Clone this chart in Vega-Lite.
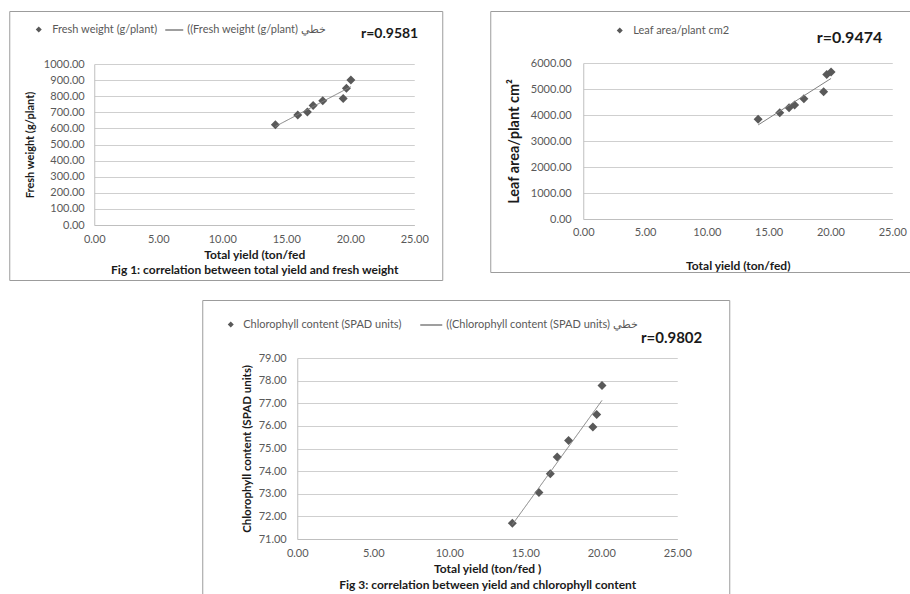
{
  "$schema": "https://vega.github.io/schema/vega-lite/v6.json",
  "background": "white",
  "padding": {"left": 8, "top": 10, "right": 0, "bottom": 0},
  "datasets": {
    "d": [
      {"yield": 14.15, "fresh": 622, "leaf": 3838, "chl": 71.7},
      {"yield": 15.9, "fresh": 683, "leaf": 4090, "chl": 73.05},
      {"yield": 16.65, "fresh": 702, "leaf": 4280, "chl": 73.88},
      {"yield": 17.1, "fresh": 743, "leaf": 4385, "chl": 74.62},
      {"yield": 17.85, "fresh": 771, "leaf": 4625, "chl": 75.35},
      {"yield": 19.45, "fresh": 785, "leaf": 4895, "chl": 75.95},
      {"yield": 19.7, "fresh": 849, "leaf": 5560, "chl": 76.5},
      {"yield": 20.05, "fresh": 900, "leaf": 5650, "chl": 77.78}
    ]
  },
  "spacing": 18,
  "center": true,
  "resolve": {"scale": {"shape": "independent", "strokeDash": "independent"}, "legend": {"shape": "independent", "strokeDash": "independent"}},
  "vconcat": [
    {
      "spacing": 46,
      "resolve": {"scale": {"shape": "independent", "strokeDash": "independent"}, "legend": {"shape": "independent", "strokeDash": "independent"}},
      "hconcat": [
        {
          "width": 433,
          "height": 269,
          "data": {"name": "d"},
          "title": {"text": "r=0.9581", "orient": "top", "anchor": "end", "frame": "group", "offset": -30, "dx": -24, "fontSize": 14},
          "layer": [
            {
              "mark": {"type": "point", "filled": true, "size": 81, "color": "#595959", "opacity": 1},
              "encoding": {
                "x": {"field": "yield", "type": "quantitative",
                  "scale": {"domain": [0, 25], "range": [85, 405], "nice": false, "zero": false},
                  "axis": {"values": [0, 5, 10, 15, 20, 25], "tickCount": 50, "format": ".2f", "offset": -55, "grid": false, "labelPadding": 8,
                    "title": ["Total yield (ton/fed", "Fig 1: correlation between total yield and fresh weight"], "titleFontSize": 12, "titlePadding": 5, "titleLineHeight": 15}},
                "y": {"field": "fresh", "type": "quantitative",
                  "scale": {"domain": [0, 1000], "range": [214, 53], "nice": false, "zero": false},
                  "axis": {"values": [0, 100, 200, 300, 400, 500, 600, 700, 800, 900, 1000], "tickCount": 50, "format": ".2f", "offset": -85, "grid": true, "labelPadding": 10,
                    "title": "Fresh weight (g/plant)", "titlePadding": 8}},
                "shape": {"datum": "Fresh weight (g/plant)", "scale": {"range": ["diamond"]},
                  "legend": {"orient": "none", "legendX": 24, "legendY": 13, "title": null, "labelOffset": 8}}
              }
            },
            {
              "transform": [{"regression": "fresh", "on": "yield"}],
              "mark": {"type": "line", "color": "#808080", "strokeWidth": 1},
              "encoding": {
                "x": {"field": "yield", "type": "quantitative"},
                "y": {"field": "fresh", "type": "quantitative"},
                "strokeDash": {"datum": "((Fresh weight (g/plant) خطي", "scale": {"range": [[1, 0]]},
                  "legend": {"orient": "none", "legendX": 155, "legendY": 9, "title": null, "symbolSize": 324, "labelOffset": 3}}
              }
            }
          ]
        },
        {
          "width": 432,
          "height": 261,
          "data": {"name": "d"},
          "title": {"text": "r=0.9474", "orient": "top", "anchor": "end", "frame": "group", "offset": -35, "dx": -40, "fontSize": 16},
          "layer": [
            {
              "mark": {"type": "point", "filled": true, "size": 81, "color": "#595959", "opacity": 1},
              "encoding": {
                "x": {"field": "yield", "type": "quantitative",
                  "scale": {"domain": [0, 25], "range": [93, 402], "nice": false, "zero": false},
                  "axis": {"values": [0, 5, 10, 15, 20, 25], "tickCount": 50, "format": ".2f", "offset": -53, "grid": false, "labelPadding": 7,
                    "title": "Total yield (ton/fed)", "titleFontSize": 12, "titlePadding": 23}},
                "y": {"field": "leaf", "type": "quantitative",
                  "scale": {"domain": [0, 6000], "range": [208, 52], "nice": false, "zero": false},
                  "axis": {"values": [0, 1000, 2000, 3000, 4000, 5000, 6000], "tickCount": 50, "format": ".2f", "offset": -93, "grid": true, "labelPadding": 12,
                    "title": "Leaf area/plant cm²", "titlePadding": 9, "titleFontSize": 14.5}},
                "shape": {"datum": "Leaf area/plant cm2", "scale": {"range": ["diamond"]},
                  "legend": {"orient": "none", "legendX": 124, "legendY": 14, "title": null, "labelOffset": 8}}
              }
            },
            {
              "transform": [{"regression": "leaf", "on": "yield"}],
              "mark": {"type": "line", "color": "#808080", "strokeWidth": 1},
              "encoding": {
                "x": {"field": "yield", "type": "quantitative"},
                "y": {"field": "leaf", "type": "quantitative"}
              }
            }
          ]
        }
      ]
    },
    {
      "width": 527,
      "height": 300,
      "data": {"name": "d"},
      "title": {"text": "r=0.9802", "orient": "top", "anchor": "end", "frame": "group", "offset": -46, "dx": -27, "fontSize": 15},
      "layer": [
        {
          "mark": {"type": "point", "filled": true, "size": 81, "color": "#595959", "opacity": 1},
          "encoding": {
            "x": {"field": "yield", "type": "quantitative",
              "scale": {"domain": [0, 25], "range": [95, 475], "nice": false, "zero": false},
              "axis": {"values": [0, 5, 10, 15, 20, 25], "tickCount": 50, "format": ".2f", "offset": -61, "grid": false, "labelPadding": 8,
                "title": ["Total yield (ton/fed )", "Fig 3: correlation between yield and chlorophyll content"], "titleFontSize": 12, "titlePadding": 5, "titleLineHeight": 16}},
            "y": {"field": "chl", "type": "quantitative",
              "scale": {"domain": [71, 79], "range": [239, 58], "nice": false, "zero": false},
              "axis": {"values": [71, 72, 73, 74, 75, 76, 77, 78, 79], "tickCount": 50, "format": ".2f", "offset": -95, "grid": true, "labelPadding": 11,
                "title": "Chlorophyll content (SPAD units)", "titlePadding": 6, "titleFontSize": 11.5}},
            "shape": {"datum": "Chlorophyll content (SPAD units)", "scale": {"range": ["diamond"]},
              "legend": {"orient": "none", "legendX": 23, "legendY": 19, "title": null, "labelOffset": 7}}
          }
        },
        {
          "transform": [{"regression": "chl", "on": "yield"}],
          "mark": {"type": "line", "color": "#808080", "strokeWidth": 1},
          "encoding": {
            "x": {"field": "yield", "type": "quantitative"},
            "y": {"field": "chl", "type": "quantitative"},
            "strokeDash": {"datum": "((Chlorophyll content (SPAD units) خطي", "scale": {"range": [[1, 0]]},
              "legend": {"orient": "none", "legendX": 217, "legendY": 13, "title": null, "symbolSize": 484, "labelOffset": 3}}
          }
        }
      ]
    }
  ],
  "config": {
    "font": "Lato",
    "view": {"stroke": "#9c9c9c", "strokeWidth": 1},
    "axis": {"labelFont": "Lato", "labelFontSize": 11, "labelColor": "#595959", "titleFont": "Lato", "titleFontWeight": "bold", "titleFontSize": 11, "titleColor": "#1a1a1a", "domainColor": "#bfbfbf", "gridColor": "#cfcfcf", "gridWidth": 1.2, "ticks": false, "labelFlush": false, "labelOverlap": false},
    "legend": {"labelFont": "Lato", "labelFontSize": 11, "labelColor": "#595959", "symbolSize": 36, "padding": 0, "labelLimit": 400},
    "title": {"font": "Lato", "fontWeight": "bold", "color": "#1a1a1a"}
  }
}
